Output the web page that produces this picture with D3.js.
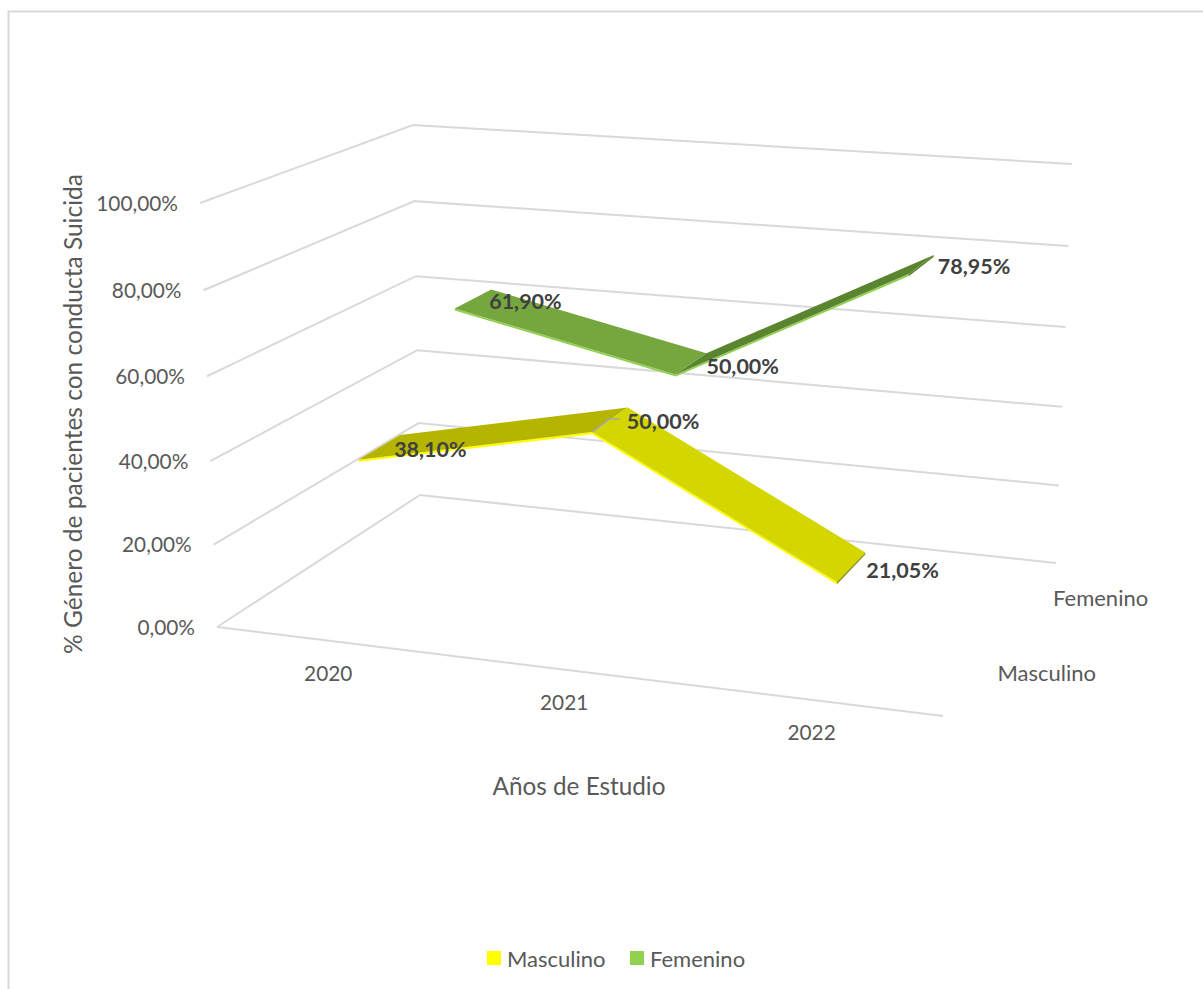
<!DOCTYPE html>
<html lang="es"><head><meta charset="utf-8">
<title>Género de pacientes con conducta suicida</title>
<script src="https://cdn.jsdelivr.net/npm/d3@7"></script>
<style>
html,body{margin:0;background:#fff}
svg{display:block}
text{font-family:Lato,"Noto Sans",sans-serif;fill:#595959}
</style></head>
<body><svg id="chart" width="1203" height="989"></svg>
<script>
// Chart values
const years = ["2020", "2021", "2022"];
const seriesNames = ["Masculino", "Femenino"];
const masculino = [38.10, 50.00, 21.05];
const femenino = [61.90, 50.00, 78.95];
const valueTicks = [0, 20, 40, 60, 80, 100];

const fmt = v => v.toFixed(2).replace(".", ",") + "%";

// Box corners at the 0 % and 100 % levels: front-left, front-right, back-right, back-left
const floorCorners = [[217, 627], [943, 716], [1056, 563], [420, 495]];
const ceilCorners = [[200, 203], [957, 256], [1072, 164], [413, 125]];
const perspective = 0.965;

const xScale = d3.scalePoint().domain(years).range([-0.004, 0.996]).padding(0.5);
const zScale = d3.scaleBand().domain(seriesNames).range([0, 1])
  .paddingInner(0.592).paddingOuter(0.306).align(0.53);
const yScale = d3.scaleLinear().domain([0, 100]).range([0, 1]);
const rise = v => { const t = yScale(v); return perspective * t / (1 - (1 - perspective) * t); };

// Maps the unit square onto a quadrilateral
function quadMap(q) {
  const [[x0, y0], [x1, y1], [x2, y2], [x3, y3]] = q;
  const dx1 = x1 - x2, dx2 = x3 - x2, dx3 = x0 - x1 + x2 - x3;
  const dy1 = y1 - y2, dy2 = y3 - y2, dy3 = y0 - y1 + y2 - y3;
  const d = dx1 * dy2 - dx2 * dy1;
  const g = (dx3 * dy2 - dx2 * dy3) / d, h = (dx1 * dy3 - dx3 * dy1) / d;
  const a = x1 - x0 + g * x1, b = x3 - x0 + h * x3, e = y1 - y0 + g * y1, f = y3 - y0 + h * y3;
  return (u, w) => {
    const k = g * u + h * w + 1;
    return [(a * u + b * w + x0) / k, (e * u + f * w + y0) / k];
  };
}
// Projects (position along years, value, depth) to the page
function project(u, v, w) {
  const t = rise(v);
  const q = floorCorners.map((p, i) => [p[0] + (ceilCorners[i][0] - p[0]) * t, p[1] + (ceilCorners[i][1] - p[1]) * t]);
  return quadMap(q)(u, w);
}

const svg = d3.select("#chart");
const line = d3.line();

// Outer frame (only the top and left edges fall inside the page)
svg.append("path").attr("d", "M1203,11.5H8.5V989").attr("fill", "none").attr("stroke", "#D9D9D9").attr("stroke-width", 2);

// Gridlines on the side and back walls
const grid = svg.append("g").attr("fill", "none").attr("stroke", "#D9D9D9").attr("stroke-width", 2);
valueTicks.forEach(v => {
  grid.append("path").attr("d", line([project(0, v, 0), project(0, v, 1), project(1, v, 1)]));
});
grid.append("path").attr("d", line([project(0, 0, 0), project(1, 0, 0)]));

// Value axis labels
svg.append("g").selectAll("text").data(valueTicks).join("text")
  .attr("x", v => project(0, v, 0)[0] - 22)
  .attr("y", v => project(0, v, 0)[1] - 1)
  .attr("text-anchor", "end").attr("dominant-baseline", "central")
  .attr("font-size", 20.8).text(v => fmt(v));

// Year labels along the front edge
svg.append("g").selectAll("text").data(years).join("text")
  .attr("x", d => project(xScale(d), 0, 0)[0])
  .attr("y", d => project(xScale(d), 0, 0)[1] + 32)
  .attr("text-anchor", "middle").attr("dominant-baseline", "central")
  .attr("font-size", 20.8).text(d => d);

// Series labels along the right edge
svg.append("g").selectAll("text").data(seriesNames).join("text")
  .attr("x", d => project(1, 0, zScale(d) + zScale.bandwidth() / 2)[0] + 21.5)
  .attr("y", d => project(1, 0, zScale(d) + zScale.bandwidth() / 2)[1] + 1.5)
  .attr("dominant-baseline", "central")
  .attr("font-size", 22).text(d => d);

// Axis titles
svg.append("text").attr("transform", "translate(72,414) rotate(-90)")
  .attr("text-anchor", "middle").attr("dominant-baseline", "central")
  .attr("font-size", 24.5).text("% Género de pacientes con conducta Suicida");
svg.append("text").attr("x", 579).attr("y", 785)
  .attr("text-anchor", "middle").attr("dominant-baseline", "central")
  .attr("font-size", 24.3).text("Años de Estudio");

// Ribbons: one top face per segment and a thin front wall in the series colour
const wallDrop = 0.5;
const seriesStyle = [
  { name: "Masculino", values: masculino, color: "#FFFF00", faces: ["#B5B500", "#D4D600"], cap: "#8F9000" },
  { name: "Femenino", values: femenino, color: "#92D050", faces: ["#76A73F", "#5B8431"], cap: "#5B8431" }
];
const marks = svg.append("g");
seriesStyle.forEach(s => {
  const w0 = zScale(s.name), w1 = w0 + zScale.bandwidth();
  const g = marks.append("g");
  d3.pairs(years.map((y, i) => ({ u: xScale(y), v: s.values[i] }))).forEach(([a, b], i) => {
    g.append("path").attr("fill", s.color).attr("d", line([
      project(a.u, a.v, w0), project(b.u, b.v, w0),
      project(b.u, b.v - wallDrop, w0), project(a.u, a.v - wallDrop, w0)]) + "Z");
    g.append("path").attr("fill", s.faces[i]).attr("d", line([
      project(a.u, a.v, w0), project(b.u, b.v, w0),
      project(b.u, b.v, w1), project(a.u, a.v, w1)]) + "Z");
  });
  const end = xScale(years[years.length - 1]), last = s.values[s.values.length - 1];
  g.append("path").attr("fill", s.cap).attr("d", line([
    project(end, last, w0), project(end, last, w1),
    project(end, last - wallDrop, w1), project(end, last - wallDrop, w0)]) + "Z");
});

// Leader from the 2021 male point to its label
const leaderStart = project(xScale("2021"), masculino[1], zScale("Masculino"));
svg.append("path").attr("fill", "none").attr("stroke", "#A6A6A6").attr("stroke-width", 1.5)
  .attr("d", line([leaderStart, [leaderStart[0] + 17, leaderStart[1] - 13], [leaderStart[0] + 28, leaderStart[1] - 13]]));

// Value labels, anchored on the rear edge of each ribbon
const labelNudge = { Masculino: [[-6, 1], [-1, 1], [1, 4]], Femenino: [[-2, -2], [0, 0], [4, -2]] };
const labels = svg.append("g");
seriesStyle.forEach(s => {
  const w1 = zScale(s.name) + zScale.bandwidth();
  years.forEach((y, i) => {
    const p = project(xScale(y), s.values[i], w1), n = labelNudge[s.name][i];
    labels.append("text").attr("x", p[0] + n[0]).attr("y", p[1] + 13 + n[1])
      .attr("dominant-baseline", "central").attr("font-size", 21.5).attr("font-weight", 700)
      .style("fill", "#404040").text(fmt(s.values[i]));
  });
});

// Legend
const legendX = d3.scaleOrdinal().domain(seriesNames).range([487, 630]);
const legend = svg.append("g").selectAll("g").data(seriesStyle).join("g")
  .attr("transform", d => `translate(${legendX(d.name)},951)`);
legend.append("rect").attr("width", 14).attr("height", 14).attr("fill", d => d.color);
legend.append("text").attr("x", 20).attr("y", 7).attr("dominant-baseline", "central")
  .attr("font-size", 22).text(d => d.name);
</script></body></html>
